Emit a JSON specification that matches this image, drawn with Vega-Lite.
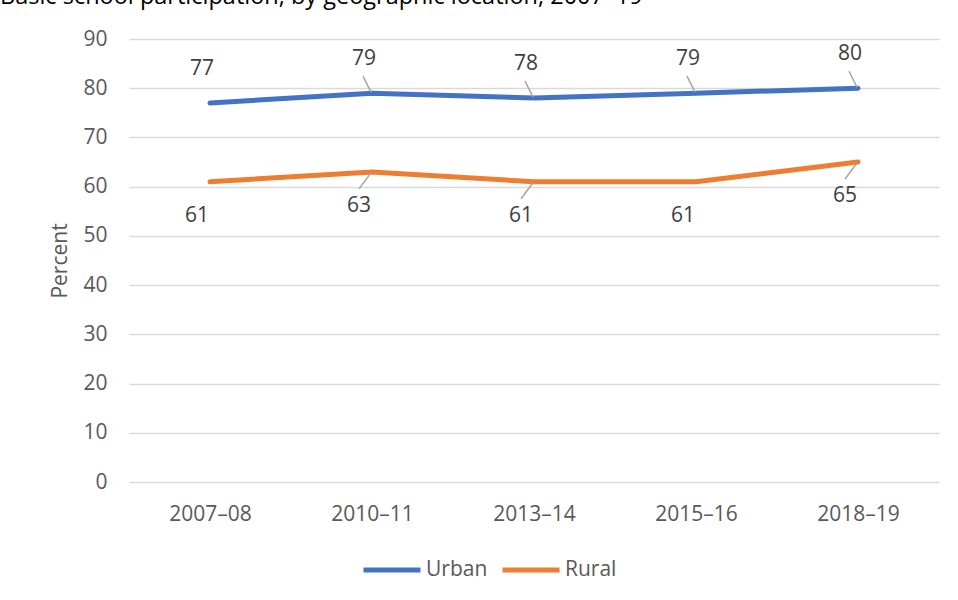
{
  "$schema": "https://vega.github.io/schema/vega-lite/v6.json",
  "width": 810,
  "height": 443,
  "autosize": "none",
  "padding": {"left": 129, "top": 39, "right": 19, "bottom": 118},
  "background": "white",
  "title": {
    "text": "Basic school participation, by geographic location, 2007–19",
    "anchor": "start",
    "frame": "group",
    "dx": -129,
    "fontSize": 23.5,
    "font": "Open Sans",
    "fontWeight": "normal",
    "color": "#000000",
    "baseline": "alphabetic",
    "offset": 0,
    "dy": -1
  },
  "config": {
    "font": "Open Sans",
    "view": {"stroke": null},
    "axis": {"labelFont": "Open Sans", "titleFont": "Open Sans"}
  },
  "data": {
    "values": [
      {"year": "2007–08", "series": "Urban", "value": 77},
      {"year": "2010–11", "series": "Urban", "value": 79},
      {"year": "2013–14", "series": "Urban", "value": 78},
      {"year": "2015–16", "series": "Urban", "value": 79},
      {"year": "2018–19", "series": "Urban", "value": 80},
      {"year": "2007–08", "series": "Rural", "value": 61},
      {"year": "2010–11", "series": "Rural", "value": 63},
      {"year": "2013–14", "series": "Rural", "value": 61},
      {"year": "2015–16", "series": "Rural", "value": 61},
      {"year": "2018–19", "series": "Rural", "value": 65}
    ]
  },
  "encoding": {
    "x": {
      "field": "year",
      "type": "ordinal",
      "sort": ["2007–08", "2010–11", "2013–14", "2015–16", "2018–19"],
      "scale": {"type": "point", "padding": 0.5},
      "axis": {
        "title": null,
        "labelAngle": 0,
        "labelFontSize": 21,
        "labelColor": "#595959",
        "labelPadding": 21,
        "ticks": false,
        "domain": false,
        "grid": false
      }
    },
    "y": {
      "field": "value",
      "type": "quantitative",
      "scale": {"domain": [0, 90]},
      "axis": {
        "title": "Percent",
        "titleFontSize": 21,
        "titleFontWeight": "normal",
        "titleColor": "#595959",
        "titlePadding": 12,
        "values": [0, 10, 20, 30, 40, 50, 60, 70, 80, 90],
        "labelFontSize": 21,
        "labelColor": "#595959",
        "labelPadding": 22,
        "ticks": false,
        "domain": false,
        "grid": true,
        "gridColor": "#d9d9d9",
        "gridWidth": 1.5
      }
    }
  },
  "layer": [
    {
      "mark": {"type": "line", "strokeWidth": 5, "strokeCap": "round", "strokeJoin": "round"},
      "encoding": {
        "color": {
          "field": "series",
          "type": "nominal",
          "scale": {"domain": ["Urban", "Rural"], "range": ["#4472C4", "#ED7D31"]},
          "legend": {
            "title": null,
            "orient": "none",
            "direction": "horizontal",
            "legendX": 232,
            "legendY": 500,
            "symbolType": "stroke",
            "symbolSize": 3249,
            "symbolStrokeWidth": 5,
            "labelFontSize": 21,
            "labelColor": "#595959",
            "labelOffset": 3,
            "columnPadding": 4
          }
        }
      }
    },
    {
      "transform": [{"filter": "datum.series == 'Urban' && datum.year != '2007–08'"}],
      "mark": {"type": "rule", "color": "#a6a6a6", "strokeWidth": 1.5, "xOffset": -9, "yOffset": -17, "x2Offset": -1, "y2Offset": -1},
      "encoding": {
        "x2": {"field": "year"},
        "y2": {"field": "value"}
      }
    },
    {
      "transform": [{"filter": "datum.series == 'Rural' && (datum.year == '2010–11' || datum.year == '2013–14' || datum.year == '2018–19')"}],
      "mark": {"type": "rule", "color": "#a6a6a6", "strokeWidth": 1.5, "xOffset": -13, "yOffset": 17, "x2Offset": -1, "y2Offset": 1},
      "encoding": {
        "x2": {"field": "year"},
        "y2": {"field": "value"}
      }
    },
    {
      "transform": [{"filter": "datum.series == 'Urban'"}],
      "mark": {"type": "text", "fontSize": 21, "color": "#404040", "dx": -8, "dy": -34, "baseline": "middle"},
      "encoding": {"text": {"field": "value", "type": "quantitative"}}
    },
    {
      "transform": [{"filter": "datum.series == 'Rural'"}],
      "mark": {"type": "text", "fontSize": 21, "color": "#404040", "dx": -13, "dy": 34, "baseline": "middle"},
      "encoding": {"text": {"field": "value", "type": "quantitative"}}
    }
  ]
}
